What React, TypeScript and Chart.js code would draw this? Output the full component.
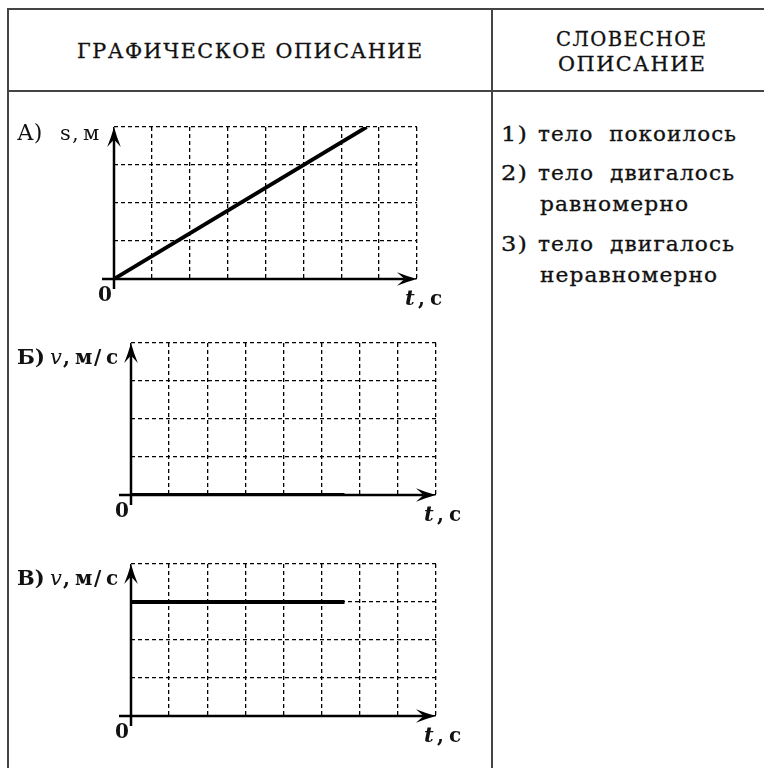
import React, { useEffect, useRef } from "react";
import { Chart, registerables } from "chart.js";

Chart.register(...registerables);

// ---- data ----
const timeTicks = [0, 1, 2, 3, 4, 5, 6, 7, 8];
const valueTicks = [0, 1, 2, 3, 4];

const tA = [0, 6.67];
const sA = [0, 4];
const tB = [0, 5.6];
const vB = [0, 0];
const tC = [0, 5.6];
const vC = [3, 3];

const headerLeft = "ГРАФИЧЕСКОЕ ОПИСАНИЕ";
const headerRight = ["СЛОВЕСНОЕ", "ОПИСАНИЕ"];
const answerNums = ["1)", "2)", "3)"];
const answerLines = ["тело  покоилось", "тело  двигалось", "тело  двигалось"];
const answerCont = ["", "равномерно", "неравномерно"];
const graphLetters = ["А)", "Б)", "В)"];

const FONT = '"DejaVu Serif", serif';

let mctx: CanvasRenderingContext2D | null = null;
function measure(text: string, size: number, weight = "normal") {
  if (!mctx) mctx = document.createElement("canvas").getContext("2d");
  mctx!.font = `${weight} ${size}px ${FONT}`;
  return mctx!.measureText(text).width;
}

function Txt({ text, x, base, size, width, ls = 1 }: { text: string; x: number; base: number; size: number; width?: number; ls?: number }) {
  const n = Array.from(text).length;
  const natural = measure(text, size) + ls * (n - 1);
  const scale = width != null ? width / natural : 1;
  return (
    <div
      style={{
        position: "absolute",
        left: x,
        top: base - 0.846 * size,
        fontFamily: FONT,
        fontSize: size,
        lineHeight: `${size}px`,
        letterSpacing: ls,
        whiteSpace: "pre",
        color: "#111",
        WebkitTextStroke: "0.3px #111",
        transform: `scaleX(${scale})`,
        transformOrigin: "0 0",
      }}
    >
      {text}
    </div>
  );
}

function arrow(ctx: CanvasRenderingContext2D, x1: number, y1: number, x2: number, y2: number, len = 20, half = 6.8) {
  const a = Math.atan2(y2 - y1, x2 - x1);
  const c = Math.cos(a), s = Math.sin(a);
  const inner = len * 0.62;
  ctx.beginPath();
  ctx.moveTo(x1, y1);
  ctx.lineTo(x2 - c * inner, y2 - s * inner);
  ctx.stroke();
  ctx.beginPath();
  ctx.moveTo(x2, y2);
  ctx.quadraticCurveTo(x2 - c * len * 0.5 - s * half * 0.4, y2 - s * len * 0.5 + c * half * 0.4, x2 - c * len - s * half, y2 - s * len + c * half);
  ctx.lineTo(x2 - c * inner, y2 - s * inner);
  ctx.lineTo(x2 - c * len + s * half, y2 - s * len - c * half);
  ctx.quadraticCurveTo(x2 - c * len * 0.5 + s * half * 0.4, y2 - s * len * 0.5 - c * half * 0.4, x2, y2);
  ctx.closePath();
  ctx.fill();
}

function overlayPlugin(kind: string, letter: string) {
  return {
    id: "axesAndLabels",
    afterDraw(chart: any) {
      const ctx: CanvasRenderingContext2D = chart.ctx;
      const xs = chart.scales.x, ys = chart.scales.y;
      const x0 = xs.getPixelForValue(timeTicks[0]);
      const xEnd = xs.getPixelForValue(timeTicks[timeTicks.length - 1]);
      const y0 = ys.getPixelForValue(valueTicks[0]);
      const yTop = ys.getPixelForValue(valueTicks[valueTicks.length - 1]);
      ctx.save();
      ctx.fillStyle = "#000";
      ctx.strokeStyle = "#000";
      ctx.lineWidth = 2.5;
      ctx.lineCap = "butt";
      arrow(ctx, x0 - 12, y0, xEnd, y0);
      arrow(ctx, x0, y0 + 10, x0, yTop);
      ctx.fillStyle = "#111";
      ctx.textBaseline = "alphabetic";
      const put = (s: string, x: number, y: number, font: string, align: CanvasTextAlign = "left") => {
        ctx.font = font;
        ctx.textAlign = align;
        ctx.fillText(s, x, y);
      };
      const B = `bold 20px ${FONT}`;
      const R = `21px ${FONT}`;
      put("0", x0 - 2, y0 + 22, `bold 20px ${FONT}`, "right");
      const tb = y0 + 26;
      put("t", xEnd - 12, tb, `bold italic 21px ${FONT}`);
      put(",", xEnd + 1, tb, B);
      put("с", xEnd + 13, tb, B);
      if (kind === "s") {
        const lb = yTop + 13;
        put(letter, 17, lb, `22px ${FONT}`);
        put("s", 60, lb, R);
        put(",", 72, lb, R);
        put("м", 83, lb, R);
      } else {
        const lb = yTop + 21;
        put(letter, 17, lb, `bold 21px ${FONT}`);
        put("v", 50, lb, `italic 21px ${FONT}`);
        put(",", 63, lb, B);
        put("м", 75, lb, B);
        put("/", 94, lb, B);
        put("с", 106, lb, B);
      }
      ctx.restore();
    },
  };
}

const CW = 480;
const graphs = [
  { kind: "s", letter: graphLetters[0], t: tA, y: sA, top: 100, h: 215, pad: { left: 114, right: CW - 417, top: 27, bottom: 36 }, lw: 3.8 },
  { kind: "v", letter: graphLetters[1], t: tB, y: vB, top: 320, h: 215, pad: { left: 131, right: CW - 436, top: 23, bottom: 40 }, lw: 4.2 },
  { kind: "v", letter: graphLetters[2], t: tC, y: vC, top: 540, h: 220, pad: { left: 131, right: CW - 436, top: 24, bottom: 44 }, lw: 4.2 },
];

function axisOpts(ticks: number[]) {
  return {
    type: "linear",
    min: ticks[0],
    max: ticks[ticks.length - 1],
    afterBuildTicks: (axis: any) => {
      axis.ticks = ticks.map((v) => ({ value: v }));
    },
    ticks: { display: false },
    grid: { color: "#000", lineWidth: 1.3, drawTicks: false },
    border: { display: false, dash: [4, 3] },
  };
}

function makeChart(canvas: HTMLCanvasElement, g: any) {
  return new Chart(canvas, {
    type: "scatter",
    data: {
      datasets: [
        {
          data: g.t.map((x: number, i: number) => ({ x, y: g.y[i] })),
          showLine: true,
          borderColor: "#000",
          borderWidth: g.lw,
          borderCapStyle: "butt",
          pointRadius: 0,
          fill: false,
        },
      ],
    },
    options: {
      animation: false,
      responsive: false,
      maintainAspectRatio: false,
      devicePixelRatio: 1,
      events: [],
      layout: { padding: g.pad },
      plugins: { legend: { display: false }, tooltip: { enabled: false } },
      scales: { x: axisOpts(timeTicks), y: axisOpts(valueTicks) },
    } as any,
    plugins: [overlayPlugin(g.kind, g.letter)],
  } as any);
}

export default function App() {
  const r0 = useRef<HTMLCanvasElement>(null);
  const r1 = useRef<HTMLCanvasElement>(null);
  const r2 = useRef<HTMLCanvasElement>(null);
  const refs = [r0, r1, r2];
  useEffect(() => {
    const charts = graphs.map((g, i) => makeChart(refs[i].current!, g));
    return () => charts.forEach((c) => c.destroy());
  }, []);

  const line = (left: number, top: number, width: number, height: number) => (
    <div style={{ position: "absolute", left, top, width, height, background: "#444" }} />
  );

  return (
    <div style={{ position: "fixed", left: 0, top: 0, width: 764, height: 768, background: "#fff", overflow: "hidden" }}>
      {line(7, 8, 757, 2)}
      {line(7, 8, 2, 760)}
      {line(7, 90, 757, 2)}
      {line(491, 8, 2, 760)}

      <Txt text={headerLeft} x={77} base={58} size={20} width={345} ls={1.5} />
      <Txt text={headerRight[0]} x={556} base={46} size={20} width={150} ls={1.5} />
      <Txt text={headerRight[1]} x={558} base={71} size={20} width={147} ls={1.5} />

      <Txt text={answerNums[0]} x={501} base={141} size={20} width={26} />
      <Txt text={answerLines[0]} x={538} base={141} size={20} width={198} />
      <Txt text={answerNums[1]} x={501} base={180} size={20} width={26} />
      <Txt text={answerLines[1]} x={538} base={180} size={20} width={196} />
      <Txt text={answerCont[1]} x={540} base={211} size={20} width={148} />
      <Txt text={answerNums[2]} x={501} base={251} size={20} width={26} />
      <Txt text={answerLines[2]} x={538} base={251} size={20} width={196} />
      <Txt text={answerCont[2]} x={540} base={282} size={20} width={177} />

      {graphs.map((g, i) => (
        <canvas
          key={i}
          ref={refs[i]}
          width={CW}
          height={g.h}
          style={{ position: "absolute", left: 0, top: g.top, width: CW, height: g.h }}
        />
      ))}
    </div>
  );
}
